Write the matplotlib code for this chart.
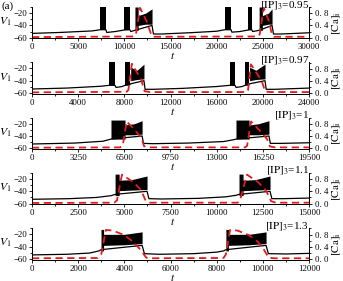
import matplotlib
matplotlib.use("Agg")
from matplotlib import pyplot as plt
from matplotlib.ticker import MultipleLocator, FuncFormatter

plt.rcParams['font.family'] = ['Liberation Serif', 'DejaVu Serif']
plt.rcParams['mathtext.fontset'] = 'stix'

# ---- panel 1: [IP]3 = 0.95 ----
p1_ip = "0.95"
p1_tmax = 30000
p1_xticks = [0, 5000, 10000, 15000, 20000, 25000, 30000]
p1_v_t = [0, 3000, 6500, 7400, 8000, 8100, 9000, 10000, 10600, 10700, 11150, 13000, 13150, 14000,
          17000, 20000, 20900, 21550, 21650, 22500, 23400, 23800, 23900, 24600, 26000, 26150, 27000, 30000]
p1_v = [-53, -51.5, -49, -47, -47, -51.5, -50, -47.5, -47, -50, -48, -40, -54, -54,
        -52, -49.5, -47, -47, -51, -50, -47.5, -47, -50, -48, -40, -54, -54, -52]
p1_bursts = [
    ([7400, 8000], [-47, -47], [-10, -10]),
    ([10000, 10600], [-47, -47], [-10, -10]),
    ([11150, 11500, 11500, 12300, 13000], [-48, -48, -40, -38, -38], [-10, -10, -24, -20, -13]),
    ([20900, 21550], [-47, -47], [-10, -10]),
    ([23400, 23800], [-47, -47], [-10, -10]),
    ([24600, 24950, 24950, 25600, 26000], [-48, -48, -40, -38, -38], [-10, -10, -24, -20, -13]),
]
p1_ca_t = [0, 11000, 11250, 11700, 12400, 12850, 13100, 24400, 24650, 25100, 25650, 25950, 26200, 30000]
p1_ca = [0.02, 0.04, 0.1, 0.98, 0.55, 0.15, 0.03, 0.04, 0.1, 0.98, 0.55, 0.15, 0.03, 0.03]

# ---- panel 2: [IP]3 = 0.97 ----
p2_ip = "0.97"
p2_tmax = 24000
p2_xticks = [0, 4000, 8000, 12000, 16000, 20000, 24000]
p2_v_t = [0, 3000, 6000, 6670, 7190, 7280, 7800, 8060, 8450, 8550, 9700, 9800, 10500, 13000,
          16000, 17150, 17590, 17680, 18200, 18450, 18800, 18850, 20190, 20290, 21000, 24000]
p2_v = [-53.5, -52, -49, -47.5, -47.5, -51, -49.5, -47.5, -47, -45, -40, -54, -54, -52.5,
        -49.5, -47.5, -47.5, -51, -49.5, -47.5, -47, -45, -40, -54, -54, -52]
p2_bursts = [
    ([6670, 7190], [-47.5, -47.5], [-10, -10]),
    ([8060, 8450], [-47.5, -47.5], [-10, -10]),
    ([8550, 9100, 9700], [-40, -38, -37], [-18, -23, -13]),
    ([17150, 17590], [-47.5, -47.5], [-10, -10]),
    ([18450, 18800], [-47.5, -47.5], [-10, -10]),
    ([18850, 19400, 20190], [-40, -38, -37], [-18, -23, -13]),
]
p2_ca_t = [0, 8200, 8350, 8650, 9450, 9750, 10200, 18600, 18720, 18970, 19900, 20200, 20600, 24000]
p2_ca = [0.02, 0.04, 0.1, 0.96, 0.45, 0.06, 0.03, 0.03, 0.1, 0.94, 0.4, 0.05, 0.03, 0.03]

# ---- panel 3: [IP]3 = 1 ----
p3_ip = "1"
p3_tmax = 19500
p3_xticks = [0, 3250, 6500, 9750, 13000, 16250, 19500]
p3_v_t = [0, 3000, 5000, 5400, 5560, 7750, 7850, 8500, 11000, 13500, 14200, 14360, 16680, 16780, 17500, 19500]
p3_v = [-53, -51.5, -48.5, -46, -45, -40, -52, -52.5, -51.5, -49, -46, -45, -40, -52, -52, -51]
p3_bursts = [
    ([5560, 6550, 6550, 7200, 7750], [-45, -45, -38, -38, -37], [-14, -14, -22, -20, -15]),
    ([14360, 15280, 15280, 15950, 16680], [-45, -45, -38, -38, -37], [-14, -14, -22, -20, -15]),
]
p3_ca_t = [0, 6200, 6385, 6665, 7200, 7720, 7885, 8200, 15000, 15140, 15420, 16000, 16550, 16750, 17100, 19500]
p3_ca = [0.02, 0.03, 0.08, 0.88, 0.62, 0.33, 0.07, 0.03, 0.03, 0.08, 0.88, 0.6, 0.3, 0.06, 0.03, 0.03]

# ---- panel 4: [IP]3 = 1.1 ----
p4_ip = "1.1"
p4_tmax = 15000
p4_xticks = [0, 2500, 5000, 7500, 10000, 12500, 15000]
p4_v_t = [0, 2000, 3500, 4300, 4500, 6230, 6330, 7000, 9000, 10500, 11050, 11210, 12890, 12990, 13600, 15000]
p4_v = [-53, -52, -50, -47, -45, -40, -52, -52.5, -51.5, -49, -46.5, -45, -40, -52, -52, -51]
p4_bursts = [
    ([4500, 4720, 4720, 5400, 6230], [-47, -47, -39, -38, -37], [-12, -12, -22, -21, -15]),
    ([11210, 11430, 11430, 12100, 12890], [-47, -47, -39, -38, -37], [-12, -12, -22, -21, -15]),
]
p4_ca_t = [0, 4450, 4600, 4870, 5500, 5900, 6150, 6350, 11150, 11260, 11640, 12250, 12700, 12950, 13200, 15000]
p4_ca = [0.02, 0.03, 0.1, 0.95, 0.7, 0.45, 0.1, 0.03, 0.03, 0.1, 0.95, 0.7, 0.4, 0.08, 0.03, 0.03]

# ---- panel 5: [IP]3 = 1.3 ----
p5_ip = "1.3"
p5_tmax = 12000
p5_xticks = [0, 2000, 4000, 6000, 8000, 10000, 12000]
p5_v_t = [0, 1500, 2500, 2900, 2990, 4770, 4870, 5500, 7000, 8000, 8300, 8400, 10140, 10240, 11000, 12000]
p5_v = [-53.5, -52.5, -50.5, -47, -45, -38, -51.5, -52.5, -51.5, -49, -47, -45, -38, -51.5, -52, -51]
p5_bursts = [
    ([2990, 3100, 3100, 4000, 4770], [-47, -47, -38, -37, -35], [-12, -12, -20, -20, -16]),
    ([8400, 8510, 8510, 9400, 10140], [-47, -47, -38, -37, -35], [-12, -12, -20, -20, -16]),
]
p5_ca_t = [0, 2850, 3000, 3200, 3500, 4000, 4400, 4700, 4950, 5200,
           8300, 8400, 8580, 8900, 9400, 9800, 10050, 10250, 10500, 12000]
p5_ca = [0.02, 0.03, 0.15, 0.95, 0.93, 0.78, 0.55, 0.3, 0.04, 0.02,
         0.03, 0.15, 0.95, 0.93, 0.78, 0.55, 0.3, 0.04, 0.02, 0.02]

panels = [
    (p1_ip, p1_tmax, p1_xticks, p1_v_t, p1_v, p1_bursts, p1_ca_t, p1_ca),
    (p2_ip, p2_tmax, p2_xticks, p2_v_t, p2_v, p2_bursts, p2_ca_t, p2_ca),
    (p3_ip, p3_tmax, p3_xticks, p3_v_t, p3_v, p3_bursts, p3_ca_t, p3_ca),
    (p4_ip, p4_tmax, p4_xticks, p4_v_t, p4_v, p4_bursts, p4_ca_t, p4_ca),
    (p5_ip, p5_tmax, p5_xticks, p5_v_t, p5_v, p5_bursts, p5_ca_t, p5_ca),
]

red = '#e41a1c'
tick_fs = 6.3
fig = plt.figure(figsize=(3.43, 2.81), dpi=100)
W, H = 343.0, 281.0

for i, (ip, tmax, xt, vt, vv, bursts, ct, cv) in enumerate(panels):
    bottom_px = 38.3 + 55.3 * i
    ax = fig.add_axes([32 / W, 1 - bottom_px / H, 277 / W, 31.3 / H])
    ax.plot(vt, vv, color='k', lw=0.9)
    for bt, blo, bhi in bursts:
        ax.fill_between(bt, blo, bhi, color='k', lw=0)
    ax.set_xlim(0, tmax)
    ax.set_ylim(-61, -10)
    ax.set_xticks(xt)
    ax.xaxis.set_minor_locator(MultipleLocator(xt[1] / 2))
    ax.set_yticks([-60, -40, -20])
    ax.yaxis.set_minor_locator(MultipleLocator(10))
    ax.tick_params(which='both', labelsize=tick_fs, width=0.6, pad=1.2, direction='out')
    ax.tick_params(which='major', length=2.5)
    ax.tick_params(which='minor', length=1.3)
    ax.spines['top'].set_visible(False)
    for s in ax.spines.values():
        s.set_linewidth(0.7)
    ax.text(-0.097, 0.52, r'$V_1$', transform=ax.transAxes, fontsize=8.5,
            ha='center', va='center')
    ax.text(0.508, -0.56, r'$t$', transform=ax.transAxes, fontsize=8,
            ha='center', va='center')

    ax2 = ax.twinx()
    ax2.plot(ct, cv, color=red, lw=1.3, dashes=(4, 2.5))
    ax2.set_ylim(-0.02, 1.007)
    ax2.set_yticks([0.0, 0.4, 0.8])
    ax2.yaxis.set_minor_locator(MultipleLocator(0.2))
    ax2.yaxis.set_major_formatter(FuncFormatter(lambda v, p: f"{v:.1f}".replace('.', '. ')))
    ax2.tick_params(which='both', labelsize=tick_fs, width=0.6, pad=1.5, direction='out')
    ax2.tick_params(which='major', length=2.5)
    ax2.tick_params(which='minor', length=1.3)
    ax2.spines['top'].set_visible(False)
    for s in ax2.spines.values():
        s.set_linewidth(0.7)
    ax2.set_ylabel(r'$[\mathrm{Ca}]_\mathrm{i}$', fontsize=8, labelpad=2)
    ax2.text(1.0, 0.97, r'$[\mathrm{IP}]_3$=' + ip, transform=ax2.transAxes,
             fontsize=8, ha='right', va='baseline')

fig.text(0.003, 0.995, '(a)', fontsize=8, ha='left', va='top')
fig.savefig('out.png', dpi=100)
